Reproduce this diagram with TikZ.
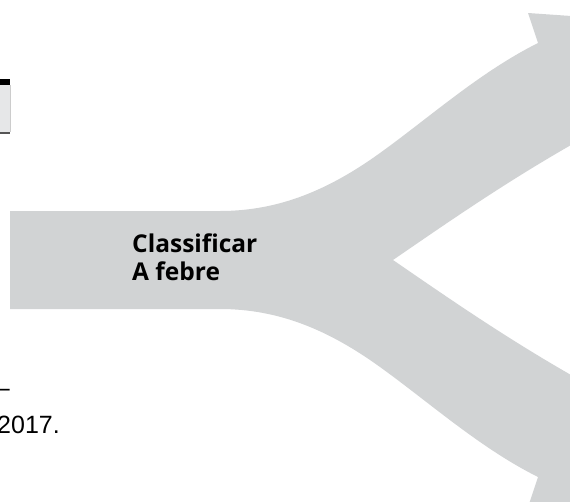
\documentclass[tikz,border=0pt]{standalone}
\usepackage{fontspec}
\setmainfont{Liberation Sans}
\newfontfamily\labelfont{Open Sans}
\usepackage{tikz}
\definecolor{arrowgray}{RGB}{209,211,212}
\definecolor{boxgray}{RGB}{230,231,232}
\definecolor{rulegray}{RGB}{85,85,85}

\begin{document}
\begin{tikzpicture}[x=1pt,y=-1pt]
\useasboundingbox (0,0) rectangle (570,501);
\clip (0,0) rectangle (570,501);
% split arrow
\fill[arrowgray] (10,211) -- (220,211) .. controls (280,211) and (330,189) .. (380,153)
  .. controls (430,117) and (480,72) .. (538,43) -- (528,13) -- (600,18) -- (660,75) -- (640,108)
  .. controls (540,158) and (460,214) .. (393,260)
  .. controls (460,306) and (540,362) .. (640,412) -- (660,445) -- (600,502) -- (528,507) -- (538,477)
  .. controls (480,448) and (430,403) .. (380,367) .. controls (330,331) and (280,309) .. (220,309)
  -- (10,309) -- cycle;
\node[anchor=base west,inner sep=0,align=left,font=\labelfont\bfseries\fontsize{24.5}{28}\selectfont] (classify) at (132,280) {Classificar\\A febre};
% box cut at the left edge
\fill[black] (0,79) rectangle (10,85);
\fill[boxgray] (0,85) rectangle (10,132);
\draw[gray!40,line width=0.8] (10,85) -- (10,132);
\fill[rulegray] (0,132) rectangle (10,134);
% text cut at the left edge
\node[anchor=base east,inner sep=0,font=\fontsize{25}{30}\selectfont] (dashtxt) at (10,396) {–};
\node[anchor=base east,inner sep=0,font=\fontsize{25}{30}\selectfont] (yeartxt) at (60,433) {2017.};
\end{tikzpicture}
\end{document}
